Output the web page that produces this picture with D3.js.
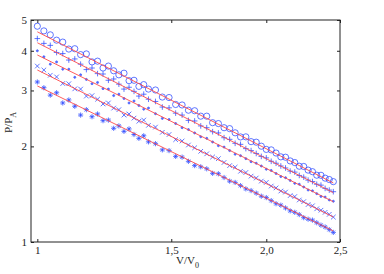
<!DOCTYPE html>
<html>
<head>
<meta charset="utf-8">
<script src="https://cdn.jsdelivr.net/npm/d3@7"></script>
<style>
body { margin: 0; background: #fff; }
</style>
</head>
<body>
<script>
const w = 384;
const h = 274;

// volume ratio V/V0 (shared by all series)
const vol = [1.00,1.02,1.04,1.06,1.08,1.10,1.12,1.14,1.16,1.18,1.20,1.22,1.24,1.26,1.28,1.30,1.32,1.34,1.36,1.38,1.40,
  1.43,1.46,1.49,1.52,1.55,1.58,1.61,1.64,1.67,1.70,1.73,1.76,1.79,1.82,1.85,1.88,1.91,1.94,1.97,2.00,
  2.03,2.06,2.09,2.12,2.15,2.18,2.21,2.24,2.27,2.30,2.33,2.36,2.39,2.42,2.45];

// P/PA for each series
const pCircle = [4.78,4.62,4.49,4.32,4.26,4.05,4.06,3.89,3.91,3.69,3.71,3.53,3.58,3.46,3.36,3.40,3.22,3.23,3.09,3.13,3.03,
  3.01,2.86,2.85,2.71,2.70,2.60,2.59,2.49,2.49,2.375,2.36,2.29,2.275,2.207,2.142,2.143,2.07,2.062,2.003,1.957,
  1.950,1.906,1.854,1.849,1.800,1.779,1.732,1.729,1.684,1.665,1.623,1.622,1.589,1.573,1.549];
const pPlus = [4.37,4.22,4.16,3.95,3.92,3.74,3.77,3.63,3.49,3.53,3.39,3.38,3.23,3.26,3.14,3.03,3.07,2.98,2.88,2.92,2.815,
  2.77,2.66,2.645,2.545,2.51,2.415,2.405,2.32,2.29,2.225,2.205,2.13,2.105,2.045,2.03,1.968,1.94,1.90,1.86,1.84,
  1.795,1.77,1.735,1.71,1.672,1.66,1.62,1.60,1.566,1.55,1.52,1.51,1.475,1.457,1.44];
const pDot = [4.00,3.83,3.63,3.69,3.50,3.50,3.30,3.36,3.25,3.15,3.18,3.04,3.03,2.89,2.92,2.83,2.74,2.78,2.69,2.62,2.64,
  2.535,2.45,2.43,2.36,2.29,2.26,2.205,2.145,2.12,2.065,2.01,1.99,1.94,1.89,1.87,1.83,1.79,1.77,1.735,1.695,
  1.68,1.643,1.607,1.594,1.563,1.53,1.52,1.49,1.458,1.449,1.42,1.392,1.385,1.357,1.344];
const pCross = [3.58,3.48,3.35,3.31,3.155,3.15,3.035,3.03,2.88,2.89,2.815,2.72,2.74,2.64,2.61,2.51,2.53,2.455,2.40,2.42,2.33,
  2.30,2.215,2.18,2.10,2.08,2.02,1.98,1.93,1.895,1.852,1.83,1.78,1.74,1.72,1.67,1.655,1.612,1.59,1.555,1.54,
  1.50,1.48,1.447,1.436,1.400,1.39,1.356,1.34,1.312,1.30,1.272,1.259,1.24,1.222,1.198];
const pStar = [3.19,3.06,2.90,2.95,2.74,2.80,2.675,2.51,2.61,2.48,2.53,2.41,2.42,2.28,2.32,2.23,2.27,2.18,2.12,2.16,2.067,
  2.04,1.95,1.94,1.86,1.85,1.795,1.74,1.725,1.70,1.645,1.64,1.596,1.555,1.54,1.505,1.47,1.452,1.425,1.394,1.38,
  1.35,1.32,1.306,1.28,1.253,1.24,1.22,1.193,1.18,1.172,1.15,1.13,1.115,1.094,1.072];

// fitted power-law lines: value at first and last V
const fitV = [1.0, 2.45];
const fitStart = [4.59, 4.24, 3.88, 3.48, 3.10];
const fitEnd = [1.534, 1.43, 1.339, 1.199, 1.083];

const xTicks = [1, 1.5, 2, 2.5];
const xTickLabels = ["1", "1,5", "2,0", "2,5"];
const yTicks = [1, 2, 3, 4, 5];
const yTickLabels = ["1", "2", "3", "4", "5"];

const mLeft = 31, mRight = 340, mTop = 20, mBottom = 242;
const blue = "#2f4cff";
const red = "#ff4a4a";
const serif = "Liberation Serif, Times New Roman, serif";

let svg = d3.select("body")
           .append("svg")
               .attr("width", w)
               .attr("height", h);

let x = d3.scaleLog().domain([0.981, 2.5]).range([mLeft, mRight]);
let y = d3.scaleLog().domain([1, 5]).range([mBottom, mTop]);

// marker shapes
function circlePath(s) { return d3.symbol(d3.symbolCircle, Math.PI * s * s)(); }
function plusPath(s) { return `M${-s},0H${s}M0,${-s}V${s}`; }
function crossPath(s) { return `M${-s},${-s}L${s},${s}M${-s},${s}L${s},${-s}`; }
function starPath(s) {
  let d = s * 0.7;
  return plusPath(s) + `M${-d},${-d}L${d},${d}M${-d},${d}L${d},${-d}`;
}

const series = [
  {vals: pCircle, path: circlePath(3.1), fill: "none"},
  {vals: pPlus, path: plusPath(2.8), fill: "none"},
  {vals: pDot, path: circlePath(1.0), fill: blue},
  {vals: pCross, path: crossPath(2.3), fill: "none"},
  {vals: pStar, path: starPath(2.6), fill: "none"}
];

series.forEach((s) => {
  svg.append("g")
    .selectAll("path")
    .data(s.vals.map((v, i) => ({v: vol[i], p: v})))
    .enter()
    .append("path")
      .attr("d", s.path)
      .attr("transform", (d) => "translate(" + x(d.v) + "," + y(d.p) + ")")
      .attr("fill", s.fill)
      .attr("stroke", blue)
      .attr("stroke-width", 0.9)
      .attr("opacity", 0.85);
});

// fit lines on top
let line = d3.line().x((d) => x(d[0])).y((d) => y(d[1]));
fitStart.forEach((p0, j) => {
  svg.append("path")
    .attr("d", line([[fitV[0], p0], [fitV[1], fitEnd[j]]]))
    .attr("fill", "none")
    .attr("stroke", red)
    .attr("stroke-width", 0.9);
});

// axes with inward ticks
function styleAxis(g) {
  g.attr("font-family", serif).attr("font-size", 11);
  g.select(".domain").remove();
  g.selectAll("line").attr("stroke", "#222");
  g.selectAll("text").attr("fill", "#222");
}
svg.append("g")
  .attr("transform", "translate(0," + mBottom + ")")
  .call(d3.axisBottom(x).tickValues(xTicks).tickSizeInner(-3).tickSizeOuter(0).tickPadding(4)
    .tickFormat((d, i) => xTickLabels[i]))
  .call(styleAxis);
svg.append("g")
  .attr("transform", "translate(0," + mTop + ")")
  .call(d3.axisTop(x).tickValues(xTicks).tickSizeInner(-3).tickSizeOuter(0).tickFormat(""))
  .call(styleAxis);
svg.append("g")
  .attr("transform", "translate(" + mLeft + ",0)")
  .call(d3.axisLeft(y).tickValues(yTicks).tickSizeInner(-3).tickSizeOuter(0).tickPadding(4)
    .tickFormat((d, i) => yTickLabels[i]))
  .call(styleAxis);
svg.append("g")
  .attr("transform", "translate(" + mRight + ",0)")
  .call(d3.axisRight(y).tickValues(yTicks).tickSizeInner(-3).tickSizeOuter(0).tickFormat(""))
  .call(styleAxis);

svg.append("rect")
  .attr("x", mLeft).attr("y", mTop)
  .attr("width", mRight - mLeft).attr("height", mBottom - mTop)
  .attr("fill", "none").attr("stroke", "#222").attr("stroke-width", 1);

// axis titles
let xl = svg.append("text").attr("x", 176).attr("y", 264)
  .attr("font-family", serif).attr("font-size", 11).attr("fill", "#222");
xl.append("tspan").text("V/V");
xl.append("tspan").attr("dy", 4).attr("font-size", 8).text("0");

let yl = svg.append("text").attr("transform", "translate(12,133) rotate(-90)")
  .attr("font-family", serif).attr("font-size", 11).attr("fill", "#222");
yl.append("tspan").text("P/P");
yl.append("tspan").attr("dy", 4).attr("font-size", 8).text("A");
</script>
</body>
</html>
